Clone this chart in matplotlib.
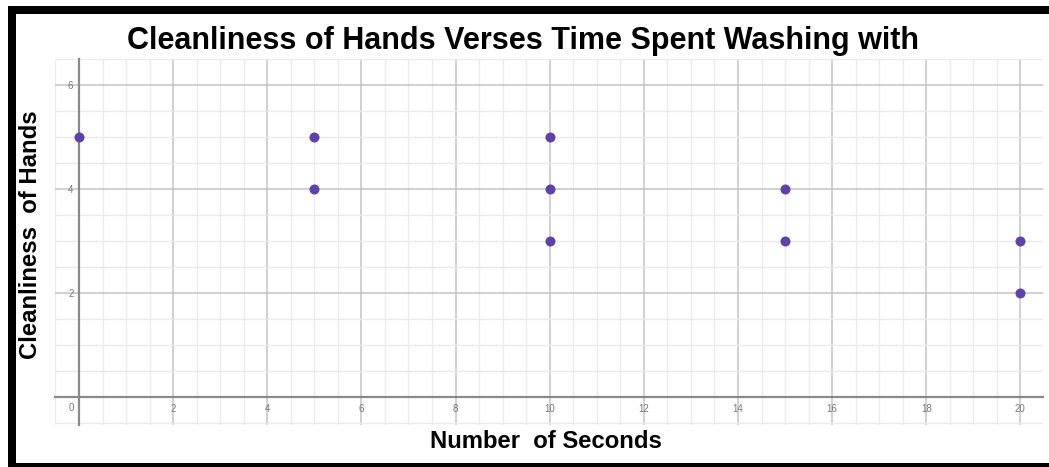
import numpy as np
import matplotlib
matplotlib.use('Agg')
import matplotlib.pyplot as plt
from matplotlib.ticker import MultipleLocator, FuncFormatter
from matplotlib.patches import Rectangle

# data
seconds = [0, 5, 5, 10, 10, 10, 15, 15, 20, 20]
cleanliness = [5, 5, 4, 5, 4, 3, 4, 3, 3, 2]

title = 'Cleanliness of Hands Verses Time Spent Washing with'
xlabel = 'Number  of Seconds'
ylabel = 'Cleanliness  of Hands'

W, H = 1049, 467
fig = plt.figure(figsize=(W / 100, H / 100), dpi=100)
ax = fig.add_axes([55 / W, (H - 425) / H, (1043 - 55) / W, (425 - 59) / H])

ax.set_xlim(-0.51, 20.48)
ax.set_ylim(-0.53, 6.5)

ax.xaxis.set_major_locator(MultipleLocator(2))
ax.xaxis.set_minor_locator(MultipleLocator(0.5))
ax.yaxis.set_major_locator(MultipleLocator(2))
ax.yaxis.set_minor_locator(MultipleLocator(0.5))
ax.grid(which='minor', color='#ebebeb', linewidth=1.0)
ax.grid(which='major', color='#c4c4c4', linewidth=1.1)
ax.set_axisbelow(True)

blank0 = FuncFormatter(lambda v, p: '' if abs(v) < 1e-9 else f'{v:g}')
ax.xaxis.set_major_formatter(blank0)
ax.yaxis.set_major_formatter(blank0)

for s in ['top', 'right']:
    ax.spines[s].set_visible(False)
ax.spines['left'].set_position(('data', 0))
ax.spines['bottom'].set_position(('data', 0))
for s in ['left', 'bottom']:
    ax.spines[s].set_color('#8a8a8a')
    ax.spines[s].set_linewidth(1.6)
# let the axis lines run through the whole grid
ax.spines['left'].set_bounds(-0.53, 6.5)
ax.spines['bottom'].set_bounds(-0.51, 20.48)

ax.tick_params(axis='both', which='minor', length=0)
ax.tick_params(axis='x', which='major', length=0, pad=5, labelsize=7, labelcolor='#777777')
ax.tick_params(axis='y', which='major', length=0, pad=4, labelsize=7, labelcolor='#777777')
for lab in ax.get_xticklabels() + ax.get_yticklabels():
    lab.set_family('Liberation Sans')
ax.text(-0.17, -0.2, '0', fontsize=7, color='#777777', family='Liberation Sans',
        ha='center', va='center')

ax.scatter(seconds, cleanliness, s=52, color='#6042a6', zorder=5, linewidths=0)

fig.text(523 / W, 1 - 41 / H, title, fontsize=22, fontweight='bold',
         family='Liberation Sans', ha='center', va='center')
fig.text(546 / W, 1 - 442 / H, xlabel, fontsize=17.2, fontweight='bold',
         family='Liberation Sans', ha='center', va='center')
fig.text(31 / W, 1 - 235 / H, ylabel, fontsize=17.2, fontweight='bold',
         family='Liberation Sans', ha='center', va='center', rotation=90)

# black frame around the picture (top, left, bottom)
def frame_bar(x0, y0, x1, y1):
    fig.add_artist(Rectangle((x0 / W, 1 - y1 / H), (x1 - x0) / W, (y1 - y0) / H,
                             transform=fig.transFigure, facecolor='black',
                             edgecolor='none'))

frame_bar(8, 6, W, 14)
frame_bar(8, 6, 16, H)
frame_bar(8, 463, W, H)

fig.savefig('out.png', dpi=100)
